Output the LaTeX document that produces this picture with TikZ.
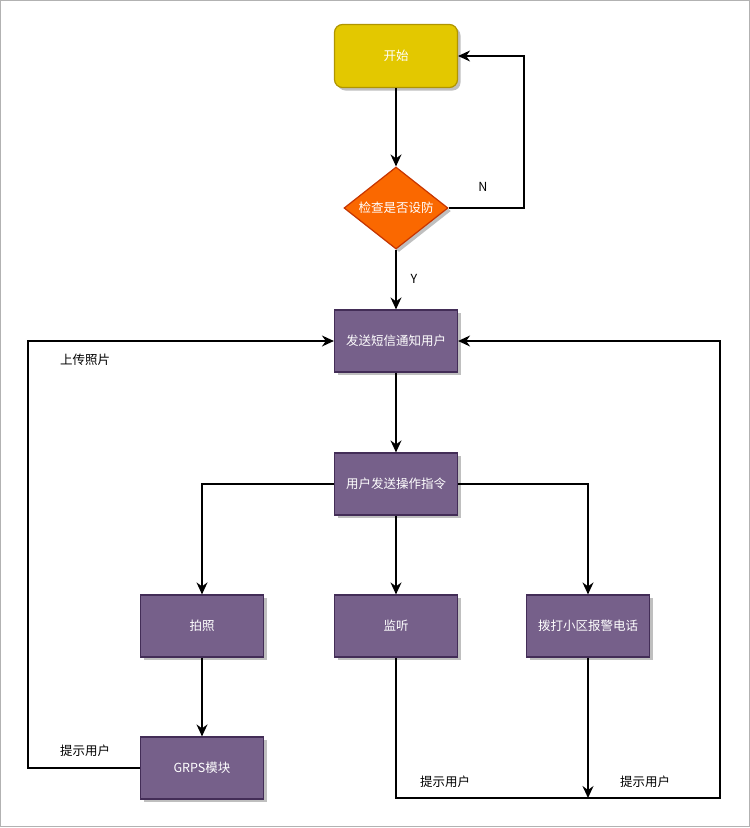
\documentclass[tikz,border=0pt]{standalone}
\usepackage{fontspec}
\setmainfont{Noto Sans CJK SC}
\usetikzlibrary{arrows.meta,shapes.geometric,shadows}
\definecolor{startfill}{HTML}{E3C800}
\definecolor{startdraw}{HTML}{B09500}
\definecolor{decfill}{HTML}{FA6800}
\definecolor{decdraw}{HTML}{C73500}
\definecolor{boxfill}{HTML}{76608A}
\definecolor{boxdraw}{HTML}{432D57}
\begin{document}
\begin{tikzpicture}[x=1pt,y=-1pt,
  font=\fontsize{12.5}{14}\selectfont,
  shad/.style={drop shadow={shadow xshift=3pt,shadow yshift=-3pt,fill=black,opacity=0.25}},
  startbox/.style={rectangle,rounded corners=8pt,draw=startdraw,fill=startfill,line width=1.2pt,minimum width=123pt,minimum height=63pt,text=white,shad},
  decbox/.style={diamond,draw=decdraw,fill=decfill,line width=1.2pt,minimum width=104pt,minimum height=82pt,inner sep=0pt,aspect=1.27,text=white,shad},
  procbox/.style={rectangle,draw=boxdraw,fill=boxfill,line width=1.2pt,minimum width=123pt,minimum height=62pt,text=white,shad},
  conn/.style={draw=black,line width=1.7pt,-{Stealth[length=12pt,width=11pt,inset=4pt]}},
  lbl/.style={text=black}]
\useasboundingbox (0,0) rectangle (750,828);
\draw[gray!60,line width=1pt] (0.5,0.5) rectangle (749.5,826.5);

\node[startbox] (start) at (396,56) {开始};
\node[decbox] (check) at (396,208) {检查是否设防};
\node[procbox] (sms) at (396,341) {发送短信通知用户};
\node[procbox] (cmd) at (396,484) {用户发送操作指令};
\node[procbox] (photo) at (202,626) {拍照};
\node[procbox] (listen) at (396,626) {监听};
\node[procbox] (call) at (588,626) {拨打小区报警电话};
\node[procbox] (grps) at (202,768) {GRPS模块};

\coordinate (nr) at (524,208);
\coordinate (nt) at (524,56);
\coordinate (gl) at (28,768);
\coordinate (gt) at (28,341);
\coordinate (lb) at (396,798);
\coordinate (rb) at (720,798);
\coordinate (rt) at (720,341);
\coordinate (cb) at (588,798);

\draw[conn] (start) -- (check);
\draw[conn] (check.east) -- (nr) -- (nt) -- (start.east);
\draw[conn] (check.south) -- (sms.north);
\draw[conn] (sms) -- (cmd);
\draw[conn] (cmd.west) -| (photo.north);
\draw[conn] (cmd) -- (listen);
\draw[conn] (cmd.east) -| (call.north);
\draw[conn] (photo) -- (grps);
\draw[conn] (grps.west) -- (gl) -- (gt) -- (sms.west);
\draw[conn] (listen.south) -- (lb) -- (rb) -- (rt) -- (sms.east);
\draw[conn] (call.south) -- (cb);

\node[lbl] (ln) at (483,187) {N};
\node[lbl] (ly) at (414,279) {Y};
\node[lbl] (lup) at (85,360) {上传照片};
\node[lbl] (ltip1) at (85,751) {提示用户};
\node[lbl] (ltip2) at (445,782) {提示用户};
\node[lbl] (ltip3) at (645,782) {提示用户};
\end{tikzpicture}
\end{document}
